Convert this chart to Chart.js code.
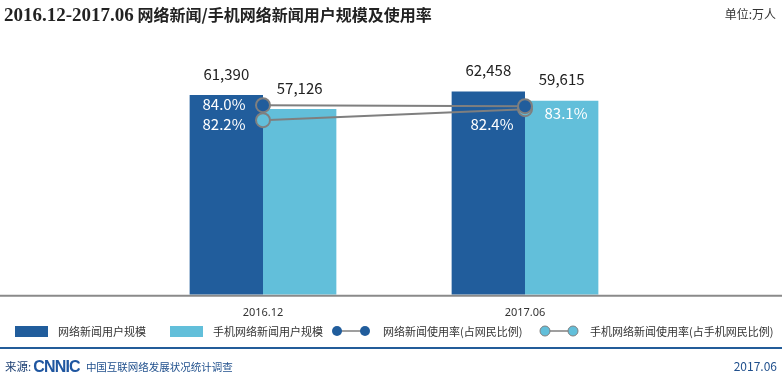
<!DOCTYPE html>
<html>
<head>
<meta charset="utf-8">
<script src="https://cdn.jsdelivr.net/npm/chart.js@4.4.0/dist/chart.umd.min.js"></script>
<style>
  body { margin: 0; width: 782px; height: 380px; position: relative; overflow: hidden; background: #fff;
         font-family: "Noto Sans CJK SC", "Noto Sans", sans-serif; color: #333; }
  #chart { position: absolute; left: 0; top: 0; }
  .abs { position: absolute; white-space: nowrap; }
  #title { left: 4px; top: 2px; font-size: 16px; font-weight: bold; color: #222; font-family: "Noto Sans CJK SC", sans-serif; }
  #title .num { font-family: "Liberation Serif", serif; font-size: 19px; }
  #unit { right: 6px; top: 5px; font-size: 12px; color: #333; }
  .legend { top: 323px; font-size: 11px; line-height: 16px; color: #333; }
  .swatch { display: inline-block; width: 33px; height: 11px; vertical-align: -1px; margin-right: 10px; }
  #rule { left: 0; top: 347px; width: 782px; height: 2px; background: #235c99; }
  .foot { top: 358px; font-size: 10.5px; line-height: 16px; color: #1f4f8c; }
  #logo { font-family: "Liberation Sans", sans-serif; font-weight: bold; font-size: 16px; letter-spacing: -0.8px;
          color: #1f56a0; vertical-align: -1px; margin: 0 6px 0 2px; }
</style>
</head>
<body>
<canvas id="chart" width="782" height="380"></canvas>
<div id="title" class="abs"><span class="num">2016.12-2017.06</span> 网络新闻/手机网络新闻用户规模及使用率</div>
<div id="unit" class="abs">单位:万人</div>

<div class="abs legend" style="left:15px"><span class="swatch" style="background:#215d9c"></span>网络新闻用户规模</div>
<div class="abs legend" style="left:170px"><span class="swatch" style="background:#62bfda"></span>手机网络新闻用户规模</div>
<div class="abs legend" style="left:331px">
  <svg width="40" height="14" style="vertical-align:-2px;margin-right:12px"><line x1="6" y1="7" x2="34" y2="7" stroke="#7f7f7f" stroke-width="1.5"/><circle cx="6" cy="7" r="5" fill="#215d9c"/><circle cx="34" cy="7" r="5" fill="#215d9c"/></svg>网络新闻使用率(占网民比例)</div>
<div class="abs legend" style="left:539px">
  <svg width="40" height="14" style="vertical-align:-2px;margin-right:11px"><line x1="6" y1="7" x2="34" y2="7" stroke="#7f7f7f" stroke-width="1.5"/><circle cx="6" cy="7" r="5" fill="#62bfda" stroke="#7f7f7f" stroke-width="1"/><circle cx="34" cy="7" r="5" fill="#62bfda" stroke="#7f7f7f" stroke-width="1"/></svg>手机网络新闻使用率(占手机网民比例)</div>

<div id="rule" class="abs"></div>
<div class="abs foot" style="left:5px"><span style="font-size:11.5px;color:#1c3f73">来源:</span><span id="logo">CNNIC</span>中国互联网络发展状况统计调查</div>
<div class="abs foot" style="right:5px;font-size:12px">2017.06</div>

<script>
// data
const categories = ['2016.12', '2017.06'];
const newsUsers = [61390, 62458];          // 网络新闻用户规模 (万人)
const mobileNewsUsers = [57126, 59615];    // 手机网络新闻用户规模 (万人)
const newsRate = [84.0, 82.4];             // 网络新闻使用率 (%)
const mobileNewsRate = [82.2, 83.1];       // 手机网络新闻使用率 (%)

const darkBlue = '#215d9c';
const lightBlue = '#62bfda';
const lineGray = '#7f7f7f';

// where the % labels sit relative to their point
const rateLabelOffsets = {
  2: [{ dx: -39, dy: -1 }, { dx: -33, dy: 18 }],
  3: [{ dx: -39, dy: 4 }, { dx: 41, dy: 4 }],
};

const labelPlugin = {
  id: 'labels',
  afterDraw(chart) {
    const ctx = chart.ctx;
    const area = chart.chartArea;
    // full width baseline
    ctx.save();
    ctx.strokeStyle = '#8a8a8a';
    ctx.lineWidth = 2;
    ctx.beginPath();
    ctx.moveTo(0, area.bottom + 1);
    ctx.lineTo(chart.width, area.bottom + 1);
    ctx.stroke();

    ctx.textAlign = 'center';
    ctx.textBaseline = 'middle';
    chart.data.datasets.forEach((ds, di) => {
      const meta = chart.getDatasetMeta(di);
      meta.data.forEach((el, i) => {
        ctx.font = '15px "Noto Sans CJK SC", "Noto Sans", sans-serif';
        if (ds.type === 'bar') {
          ctx.fillStyle = '#222';
          ctx.fillText(ds.data[i].toLocaleString('en-US'), el.x, el.y - 21);
        } else {
          const off = rateLabelOffsets[di][i];
          ctx.fillStyle = '#fff';
          ctx.fillText(ds.data[i].toFixed(1) + '%', el.x + off.dx, el.y + off.dy);
        }
      });
    });
    ctx.restore();
  }
};

new Chart(document.getElementById('chart'), {
  data: {
    labels: categories,
    datasets: [
      { type: 'bar', label: '网络新闻用户规模', data: newsUsers, backgroundColor: darkBlue,
        yAxisID: 'y', order: 2, categoryPercentage: 0.56, barPercentage: 1 },
      { type: 'bar', label: '手机网络新闻用户规模', data: mobileNewsUsers, backgroundColor: lightBlue,
        yAxisID: 'y', order: 2, categoryPercentage: 0.56, barPercentage: 1 },
      { type: 'line', label: '网络新闻使用率(占网民比例)', data: newsRate, yAxisID: 'y2', order: 0,
        borderColor: lineGray, borderWidth: 2, pointRadius: 7, pointBackgroundColor: darkBlue,
        pointBorderColor: lineGray, pointBorderWidth: 2 },
      { type: 'line', label: '手机网络新闻使用率(占手机网民比例)', data: mobileNewsRate, yAxisID: 'y3', order: 1,
        borderColor: lineGray, borderWidth: 2, pointRadius: 7, pointBackgroundColor: lightBlue,
        pointBorderColor: lineGray, pointBorderWidth: 2 },
    ],
  },
  options: {
    responsive: false,
    animation: false,
    layout: { padding: { left: 132, right: 126, top: 67, bottom: 58 } },
    plugins: { legend: { display: false }, tooltip: { enabled: false } },
    scales: {
      x: {
        grid: { display: false },
        border: { display: false },
        ticks: { color: '#333', padding: 3, font: { size: 11, family: '"Noto Sans", sans-serif' } },
      },
      y: { display: false, min: 0, max: 70000 },
      y2: { display: false, min: -218.4, max: 144.8 },
      y3: { display: false, min: 67.96, max: 86.54 },
    },
  },
  plugins: [labelPlugin],
});
</script>
</body>
</html>
